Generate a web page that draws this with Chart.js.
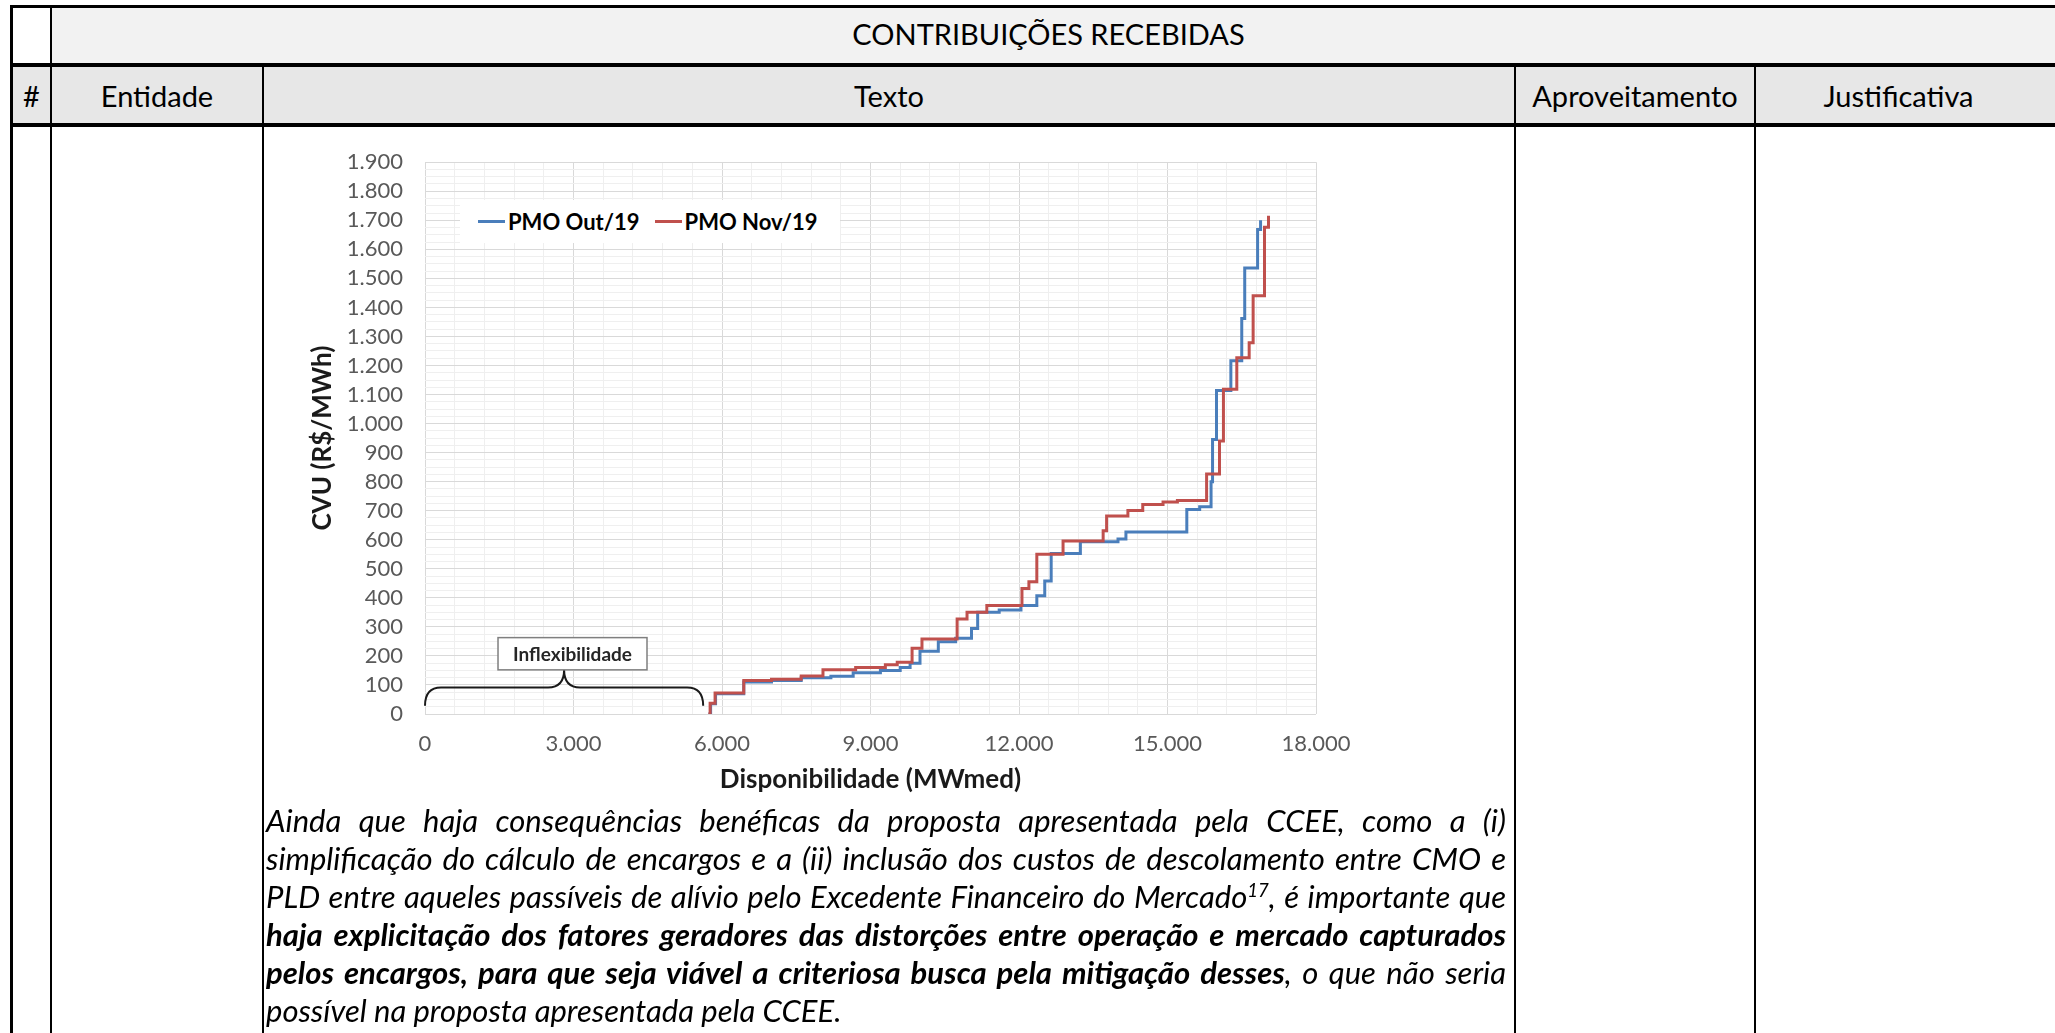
<!DOCTYPE html>
<html>
<head>
<meta charset="utf-8">
<script src="https://cdn.jsdelivr.net/npm/chart.js@4.4.1/dist/chart.umd.min.js"></script>
<style>
  html, body { margin: 0; padding: 0; background: #fff; }
  body { width: 2055px; height: 1033px; position: relative; overflow: hidden; font-family: Lato, "Open Sans", sans-serif; color: #000; }
  .bg, .ln, .hd { position: absolute; }
  .ln { background: #000; }
  .hd { display: flex; align-items: center; justify-content: center; font-size: 29px; }
  #chartBox { position: absolute; left: 264px; top: 127px; width: 1120px; height: 683px; }
  #legend { position: absolute; left: 460px; top: 200px; width: 380px; height: 43px; background: #fff;
            display: flex; align-items: center; padding-left: 18px; box-sizing: border-box; font-weight: bold; font-size: 22px; }
  #legend .sw { display: inline-block; width: 27px; height: 3px; margin-right: 3px; }
  #legend .it { display: inline-flex; align-items: center; margin-right: 15px; }
  #texto { position: absolute; left: 266px; top: 801px; width: 1240px; font-style: italic; font-size: 31px; }
  #texto div { line-height: 38px; text-align: justify; text-align-last: justify; }
  #texto div.last { text-align-last: left; }
  #texto sup { font-size: 0.6em; line-height: 0; }
</style>
</head>
<body>
<!-- fundos do cabeçalho -->
<div class="bg" style="left:52px;top:8px;width:2003px;height:55px;background:#f2f2f2"></div>
<div class="bg" style="left:12px;top:67px;width:2043px;height:56px;background:#e7e7e7"></div>
<!-- linhas da tabela -->
<div class="ln" style="left:10px;top:5px;width:2045px;height:3px"></div>
<div class="ln" style="left:10px;top:63px;width:2045px;height:4px"></div>
<div class="ln" style="left:10px;top:123px;width:2045px;height:4px"></div>
<div class="ln" style="left:10px;top:5px;width:3px;height:1028px"></div>
<div class="ln" style="left:50px;top:5px;width:2px;height:1028px"></div>
<div class="ln" style="left:262px;top:63px;width:2px;height:970px"></div>
<div class="ln" style="left:1514px;top:63px;width:2px;height:970px"></div>
<div class="ln" style="left:1754px;top:63px;width:2px;height:970px"></div>
<!-- textos do cabeçalho -->
<div class="hd" style="left:52px;top:8px;width:1993px;height:50px">CONTRIBUIÇÕES RECEBIDAS</div>
<div class="hd" style="left:13px;top:67px;width:37px;height:56px">#</div>
<div class="hd" style="left:52px;top:67px;width:210px;height:56px">Entidade</div>
<div class="hd" style="left:264px;top:67px;width:1250px;height:56px">Texto</div>
<div class="hd" style="left:1516px;top:67px;width:238px;height:56px">Aproveitamento</div>
<div class="hd" style="left:1756px;top:67px;width:285px;height:56px">Justificativa</div>

<div id="chartBox"><canvas id="cvuChart"></canvas></div>
<div id="legend"></div>

<div id="texto">
  <div>Ainda que haja consequências benéficas da proposta apresentada pela CCEE, como a (i)</div>
  <div>simplificação do cálculo de encargos e a (ii) inclusão dos custos de descolamento entre CMO e</div>
  <div>PLD entre aqueles passíveis de alívio pelo Excedente Financeiro do Mercado<sup>17</sup>, é importante que</div>
  <div><b>haja explicitação dos fatores geradores das distorções entre operação e mercado capturados</b></div>
  <div><b>pelos encargos, para que seja viável a criteriosa busca pela mitigação desses</b>, o que não seria</div>
  <div class="last">possível na proposta apresentada pela CCEE.</div>
</div>

<script>
// PMO Out/19 - disponibilidade acumulada (MWmed) onde o CVU muda
var outDisp = [5725, 5770, 5870, 6440, 7000, 7600, 8200, 8650, 9200, 9600, 9800, 10000, 10370, 10720,
               11040, 11165, 11600, 12040, 12360, 12520, 12650, 13240, 14000, 14160, 15390, 15650,
               15880, 15910, 15990, 16280, 16500, 16560, 16820, 16880];
var outCvu  = [0, 35, 70, 110, 115, 125, 130, 142, 150, 160, 175, 216, 249, 261,
               294, 350, 358, 374, 407, 458, 553, 593, 603, 627, 704, 714,
               800, 945, 1114, 1216, 1362, 1536, 1668, 1700];

// PMO Nov/19
var novDisp = [5725, 5760, 5860, 6440, 7000, 7600, 8040, 8700, 9300, 9540, 9840, 10040, 10750, 10950,
               11350, 12060, 12200, 12360, 12890, 13700, 13770, 14200, 14500, 14910, 15200, 15790,
               16050, 16130, 16400, 16650, 16730, 16960, 17040];
var novCvu  = [0, 37, 72, 115, 120, 131, 152, 160, 170, 178, 226, 258, 327, 350,
               374, 432, 455, 550, 596, 631, 682, 701, 721, 730, 735, 826,
               940, 1118, 1227, 1278, 1440, 1676, 1716];

var seriesNames = ['PMO Out/19', 'PMO Nov/19'];
var seriesColors = ['#4a7ebb', '#c0504d'];

var xMax = 18000, xMajor = 3000, xMinor = 600;
var yMax = 1900, yMajor = 100, yMinor = 25;

// faixa de inflexibilidade (MWmed) e rótulo
var inflexLabel = 'Inflexibilidade';
var inflexStart = 0, inflexEnd = 5620;

function fmt(v) {
    return String(v).replace(/\B(?=(\d{3})+(?!\d))/g, '.');
}

function toPoints(xs, ys) {
    return xs.map(function (x, i) { return { x: x, y: ys[i] }; });
}

var braceAnnotation = {
    id: 'braceAnnotation',
    afterDatasetsDraw: function (chart) {
        var x = chart.scales.x, y = chart.scales.y, c = chart.ctx;
        var L = x.getPixelForValue(inflexStart), R = x.getPixelForValue(inflexEnd);
        var M = (L + R) / 2;
        var yFlat = y.getPixelForValue(91), yEnd = y.getPixelForValue(28), yTip = y.getPixelForValue(152);
        var r = 16;
        c.save();
        c.strokeStyle = '#1a1a1a';
        c.lineWidth = 2;
        c.beginPath();
        c.moveTo(L, yEnd);
        c.quadraticCurveTo(L, yFlat, L + r, yFlat);
        c.lineTo(M - r, yFlat);
        c.quadraticCurveTo(M, yFlat, M, yTip);
        c.quadraticCurveTo(M, yFlat, M + r, yFlat);
        c.lineTo(R - r, yFlat);
        c.quadraticCurveTo(R, yFlat, R, yEnd);
        c.stroke();

        // caixa do rótulo
        var bx0 = x.getPixelForValue(1475), bx1 = x.getPixelForValue(4485);
        var by0 = y.getPixelForValue(263), by1 = y.getPixelForValue(152);
        c.fillStyle = '#fff';
        c.fillRect(bx0, by0, bx1 - bx0, by1 - by0);
        c.strokeStyle = '#7f7f7f';
        c.lineWidth = 1.5;
        c.strokeRect(bx0, by0, bx1 - bx0, by1 - by0);
        c.fillStyle = '#262626';
        c.font = 'bold 19px Lato';
        c.textAlign = 'center';
        c.textBaseline = 'middle';
        c.fillText(inflexLabel, (bx0 + bx1) / 2, (by0 + by1) / 2 + 1);
        c.restore();
    }
};

function initCvuChart() {
    var ctx = document.getElementById('cvuChart').getContext('2d');

    var chart = new Chart(ctx, {
        type: 'line',
        data: {
            datasets: [{
                label: seriesNames[0],
                data: toPoints(outDisp, outCvu),
                borderColor: seriesColors[0],
                borderWidth: 3,
                stepped: 'before',
                pointRadius: 0,
                fill: false,
                order: 1
            }, {
                label: seriesNames[1],
                data: toPoints(novDisp, novCvu),
                borderColor: seriesColors[1],
                borderWidth: 3,
                stepped: 'before',
                pointRadius: 0,
                fill: false,
                order: 0
            }]
        },
        options: {
            responsive: true,
            maintainAspectRatio: false,
            animation: false,
            layout: { padding: { left: 0, right: 68, top: 23, bottom: 0 } },
            plugins: {
                legend: { display: false },
                tooltip: { enabled: false }
            },
            scales: {
                x: {
                    type: 'linear',
                    min: 0,
                    max: xMax,
                    afterFit: function (s) { s.height = 96; },
                    border: { display: false },
                    grid: {
                        drawTicks: false,
                        color: function (c) { return c.tick.value % xMajor === 0 ? '#d9d9d9' : '#efefef'; }
                    },
                    ticks: {
                        stepSize: xMinor,
                        autoSkip: false,
                        maxRotation: 0,
                        minRotation: 0,
                        padding: 17,
                        color: '#595959',
                        font: { family: 'Lato', size: 22 },
                        callback: function (v) { return v % xMajor === 0 ? fmt(v) : ''; }
                    },
                    title: {
                        display: true,
                        text: 'Disponibilidade (MWmed)',
                        color: '#1a1a1a',
                        font: { family: 'Lato', size: 26, weight: 'bold' },
                        padding: { top: 0, bottom: 15 }
                    }
                },
                y: {
                    min: 0,
                    max: yMax,
                    afterFit: function (s) { s.width = 161; },
                    border: { display: false },
                    grid: {
                        drawTicks: false,
                        color: function (c) { return c.tick.value % yMajor === 0 ? '#d9d9d9' : '#efefef'; }
                    },
                    ticks: {
                        stepSize: yMinor,
                        autoSkip: false,
                        padding: 22,
                        color: '#595959',
                        font: { family: 'Lato', size: 22 },
                        callback: function (v) { return v % yMajor === 0 ? fmt(v) : ''; }
                    },
                    title: {
                        display: true,
                        text: 'CVU (R$/MWh)',
                        color: '#1a1a1a',
                        font: { family: 'Lato', size: 26, weight: 'bold' },
                        padding: { top: 43, bottom: 0 }
                    }
                }
            }
        },
        plugins: [braceAnnotation]
    });

    // legenda dentro da área do gráfico
    var html = '';
    chart.data.datasets.forEach(function (ds) {
        html += '<span class="it"><span class="sw" style="background:' + ds.borderColor + '"></span>' + ds.label + '</span>';
    });
    document.getElementById('legend').innerHTML = html;
}

// reduz a fonte do parágrafo até cada linha caber sem quebrar
function fitText() {
    var box = document.getElementById('texto');
    var rows = box.children;
    var size = 31;
    function wraps() {
        for (var i = 0; i < rows.length; i++) {
            if (rows[i].offsetHeight > 40) return true;
        }
        return false;
    }
    while (wraps() && size > 20) {
        size -= 0.25;
        box.style.fontSize = size + 'px';
    }
}

initCvuChart();
fitText();
</script>
</body>
</html>
